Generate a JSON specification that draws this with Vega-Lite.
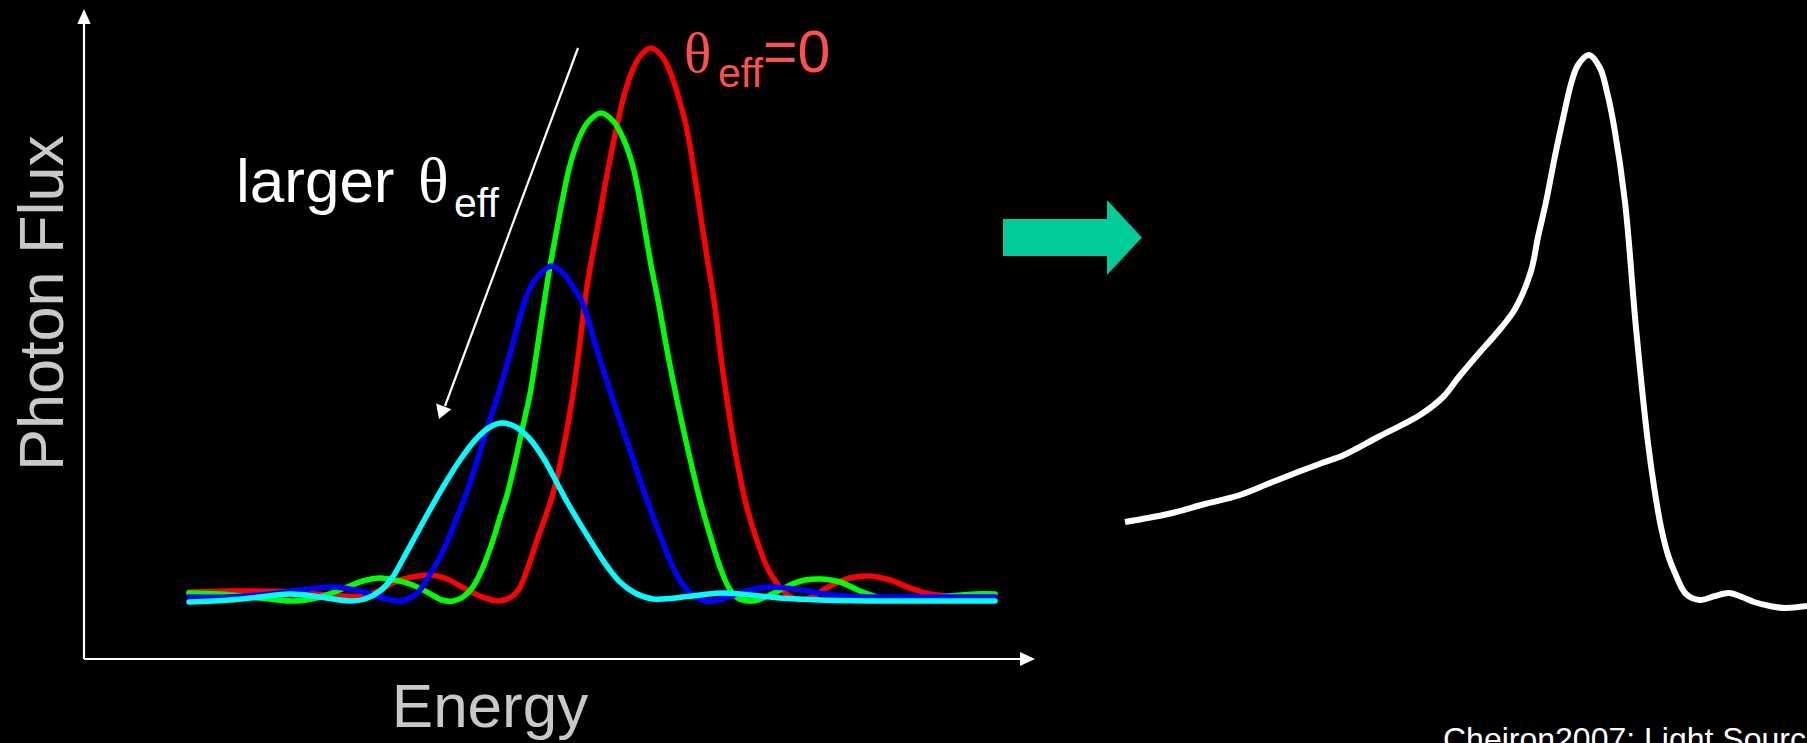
{
  "$schema": "https://vega.github.io/schema/vega-lite/v6.json",
  "width": 1807,
  "height": 743,
  "autosize": "none",
  "padding": 0,
  "background": "#000000",
  "config": {"view": {"stroke": null}},
  "datasets": {
    "spectra": [
      {"series":"theta0","x":189,"y":592},{"series":"theta0","x":240,"y":591},{"series":"theta0","x":290,"y":592},{"series":"theta0","x":330,"y":595},{"series":"theta0","x":362,"y":596},{"series":"theta0","x":380,"y":590},{"series":"theta0","x":395,"y":582},{"series":"theta0","x":412,"y":577},{"series":"theta0","x":430,"y":575},{"series":"theta0","x":447,"y":579},{"series":"theta0","x":462,"y":587},{"series":"theta0","x":480,"y":596},{"series":"theta0","x":499,"y":601},{"series":"theta0","x":511,"y":597},{"series":"theta0","x":519,"y":589},{"series":"theta0","x":527,"y":570},{"series":"theta0","x":537,"y":540},{"series":"theta0","x":546,"y":515},{"series":"theta0","x":554,"y":490},{"series":"theta0","x":563,"y":450},{"series":"theta0","x":572,"y":400},{"series":"theta0","x":579,"y":350},{"series":"theta0","x":585,"y":300},{"series":"theta0","x":591,"y":263},{"series":"theta0","x":598,"y":225},{"series":"theta0","x":606,"y":180},{"series":"theta0","x":616,"y":130},{"series":"theta0","x":625,"y":92},{"series":"theta0","x":633,"y":69},{"series":"theta0","x":641,"y":55},{"series":"theta0","x":651,"y":48},{"series":"theta0","x":661,"y":55},{"series":"theta0","x":669,"y":69},{"series":"theta0","x":677,"y":92},{"series":"theta0","x":687,"y":130},{"series":"theta0","x":695,"y":178},{"series":"theta0","x":702,"y":225},{"series":"theta0","x":708,"y":263},{"series":"theta0","x":714,"y":300},{"series":"theta0","x":720,"y":350},{"series":"theta0","x":727,"y":400},{"series":"theta0","x":735,"y":450},{"series":"theta0","x":745,"y":500},{"series":"theta0","x":755,"y":535},{"series":"theta0","x":767,"y":567},{"series":"theta0","x":778,"y":585},{"series":"theta0","x":788,"y":595},{"series":"theta0","x":800,"y":600},{"series":"theta0","x":812,"y":597},{"series":"theta0","x":830,"y":586},{"series":"theta0","x":850,"y":578},{"series":"theta0","x":870,"y":576},{"series":"theta0","x":890,"y":580},{"series":"theta0","x":910,"y":588},{"series":"theta0","x":930,"y":594},{"series":"theta0","x":950,"y":596},{"series":"theta0","x":975,"y":595},{"series":"theta0","x":995,"y":594},

      {"series":"theta1","x":189,"y":593},{"series":"theta1","x":220,"y":594},{"series":"theta1","x":260,"y":598},{"series":"theta1","x":293,"y":601},{"series":"theta1","x":320,"y":597},{"series":"theta1","x":345,"y":588},{"series":"theta1","x":363,"y":581},{"series":"theta1","x":380,"y":578},{"series":"theta1","x":395,"y":580},{"series":"theta1","x":410,"y":584},{"series":"theta1","x":427,"y":592},{"series":"theta1","x":442,"y":600},{"series":"theta1","x":453,"y":601},{"series":"theta1","x":463,"y":597},{"series":"theta1","x":472,"y":588},{"series":"theta1","x":480,"y":574},{"series":"theta1","x":487,"y":557},{"series":"theta1","x":494,"y":537},{"series":"theta1","x":500,"y":517},{"series":"theta1","x":507,"y":495},{"series":"theta1","x":515,"y":462},{"series":"theta1","x":522,"y":430},{"series":"theta1","x":530,"y":394},{"series":"theta1","x":537,"y":350},{"series":"theta1","x":543,"y":310},{"series":"theta1","x":549,"y":272},{"series":"theta1","x":556,"y":234},{"series":"theta1","x":563,"y":197},{"series":"theta1","x":570,"y":165},{"series":"theta1","x":579,"y":138},{"series":"theta1","x":588,"y":122},{"series":"theta1","x":601,"y":113},{"series":"theta1","x":614,"y":122},{"series":"theta1","x":623,"y":138},{"series":"theta1","x":632,"y":163},{"series":"theta1","x":639,"y":195},{"series":"theta1","x":645,"y":230},{"series":"theta1","x":651,"y":265},{"series":"theta1","x":658,"y":300},{"series":"theta1","x":667,"y":350},{"series":"theta1","x":677,"y":400},{"series":"theta1","x":688,"y":450},{"series":"theta1","x":700,"y":500},{"series":"theta1","x":710,"y":535},{"series":"theta1","x":720,"y":567},{"series":"theta1","x":729,"y":588},{"series":"theta1","x":738,"y":598},{"series":"theta1","x":753,"y":601},{"series":"theta1","x":768,"y":596},{"series":"theta1","x":790,"y":585},{"series":"theta1","x":805,"y":580},{"series":"theta1","x":822,"y":579},{"series":"theta1","x":840,"y":582},{"series":"theta1","x":860,"y":591},{"series":"theta1","x":880,"y":598},{"series":"theta1","x":895,"y":600},{"series":"theta1","x":920,"y":599},{"series":"theta1","x":950,"y":596},{"series":"theta1","x":975,"y":594},{"series":"theta1","x":995,"y":594},

      {"series":"theta2","x":189,"y":597},{"series":"theta2","x":230,"y":597},{"series":"theta2","x":270,"y":594},{"series":"theta2","x":300,"y":590},{"series":"theta2","x":333,"y":587},{"series":"theta2","x":360,"y":591},{"series":"theta2","x":380,"y":597},{"series":"theta2","x":400,"y":601},{"series":"theta2","x":412,"y":597},{"series":"theta2","x":420,"y":590},{"series":"theta2","x":427,"y":579},{"series":"theta2","x":435,"y":566},{"series":"theta2","x":443,"y":551},{"series":"theta2","x":450,"y":535},{"series":"theta2","x":457,"y":517},{"series":"theta2","x":465,"y":497},{"series":"theta2","x":472,"y":477},{"series":"theta2","x":486,"y":432},{"series":"theta2","x":498,"y":395},{"series":"theta2","x":511,"y":350},{"series":"theta2","x":524,"y":303},{"series":"theta2","x":530,"y":288},{"series":"theta2","x":539,"y":275},{"series":"theta2","x":552,"y":266},{"series":"theta2","x":565,"y":275},{"series":"theta2","x":573,"y":287},{"series":"theta2","x":582,"y":302},{"series":"theta2","x":597,"y":350},{"series":"theta2","x":613,"y":400},{"series":"theta2","x":630,"y":450},{"series":"theta2","x":647,"y":500},{"series":"theta2","x":660,"y":535},{"series":"theta2","x":673,"y":567},{"series":"theta2","x":683,"y":585},{"series":"theta2","x":693,"y":595},{"series":"theta2","x":707,"y":601},{"series":"theta2","x":725,"y":598},{"series":"theta2","x":750,"y":590},{"series":"theta2","x":772,"y":587},{"series":"theta2","x":800,"y":590},{"series":"theta2","x":833,"y":595},{"series":"theta2","x":870,"y":597},{"series":"theta2","x":920,"y":597},{"series":"theta2","x":995,"y":597},

      {"series":"theta3","x":189,"y":602},{"series":"theta3","x":230,"y":600},{"series":"theta3","x":260,"y":597},{"series":"theta3","x":290,"y":594},{"series":"theta3","x":320,"y":597},{"series":"theta3","x":350,"y":601},{"series":"theta3","x":365,"y":599},{"series":"theta3","x":380,"y":591},{"series":"theta3","x":392,"y":578},{"series":"theta3","x":403,"y":559},{"series":"theta3","x":415,"y":537},{"series":"theta3","x":427,"y":515},{"series":"theta3","x":443,"y":487},{"series":"theta3","x":460,"y":460},{"series":"theta3","x":477,"y":438},{"series":"theta3","x":490,"y":427},{"series":"theta3","x":501,"y":423},{"series":"theta3","x":514,"y":426},{"series":"theta3","x":529,"y":438},{"series":"theta3","x":544,"y":459},{"series":"theta3","x":558,"y":485},{"series":"theta3","x":570,"y":507},{"series":"theta3","x":582,"y":527},{"series":"theta3","x":595,"y":548},{"series":"theta3","x":607,"y":566},{"series":"theta3","x":620,"y":582},{"series":"theta3","x":635,"y":593},{"series":"theta3","x":653,"y":599},{"series":"theta3","x":675,"y":598},{"series":"theta3","x":700,"y":595},{"series":"theta3","x":723,"y":593},{"series":"theta3","x":750,"y":595},{"series":"theta3","x":780,"y":598},{"series":"theta3","x":820,"y":600},{"series":"theta3","x":880,"y":601},{"series":"theta3","x":995,"y":601}
    ],
    "total": [
      {"x":1125,"y":522},{"x":1168,"y":514},{"x":1205,"y":504},{"x":1240,"y":495},{"x":1270,"y":483},{"x":1298,"y":472},{"x":1322,"y":463},{"x":1344,"y":455},{"x":1380,"y":436},{"x":1420,"y":415},{"x":1443,"y":397},{"x":1458,"y":378},{"x":1474,"y":359},{"x":1501,"y":328},{"x":1515,"y":309},{"x":1531,"y":271},{"x":1538,"y":237},{"x":1546,"y":202},{"x":1555,"y":156},{"x":1564,"y":114},{"x":1571,"y":84},{"x":1578,"y":65},{"x":1589,"y":55},{"x":1600,"y":68},{"x":1607,"y":92},{"x":1614,"y":126},{"x":1625,"y":202},{"x":1636,"y":328},{"x":1648,"y":443},{"x":1655,"y":493},{"x":1661,"y":527},{"x":1668,"y":555},{"x":1675,"y":573},{"x":1686,"y":594},{"x":1700,"y":600},{"x":1715,"y":596},{"x":1729,"y":593},{"x":1742,"y":597},{"x":1754,"y":602},{"x":1770,"y":606},{"x":1785,"y":608},{"x":1807,"y":606}
    ],
    "segments": [
      {"x":84,"y":24,"x2":84,"y2":659},
      {"x":84,"y":659,"x2":1020,"y2":659},
      {"x":578,"y":48,"x2":445,"y2":406}
    ]
  },
  "encoding": {
    "x": {"field":"x","type":"quantitative","scale":{"domain":[0,1807],"nice":false,"zero":false},"axis":null},
    "y": {"field":"y","type":"quantitative","scale":{"domain":[0,743],"nice":false,"zero":false,"reverse":true},"axis":null}
  },
  "layer": [
    {"data":{"name":"segments"},"mark":{"type":"rule","color":"#ffffff","strokeWidth":2.2},
     "encoding":{"x2":{"field":"x2"},"y2":{"field":"y2"}}},
    {"data":{"values":[{"x":84,"y":9}]},"mark":{"type":"point","shape":"M0,0L-0.45,1L0.45,1Z","size":900,"filled":true,"opacity":1,"color":"#ffffff","strokeWidth":0}},
    {"data":{"values":[{"x":1035,"y":659}]},"mark":{"type":"point","shape":"M0,0L-1,-0.46L-1,0.46Z","size":900,"filled":true,"opacity":1,"color":"#ffffff","strokeWidth":0}},
    {"data":{"values":[{"x":439,"y":419}]},"mark":{"type":"point","shape":"M0,0L-0.6,-1L0.6,-1Z","size":729,"angle":20.5,"filled":true,"opacity":1,"color":"#ffffff","strokeWidth":0}},
    {"data":{"name":"spectra"},"transform":[{"filter":"datum.series === 'theta0'"}],"mark":{"type":"line","color":"#ff0000","strokeWidth":5.5,"interpolate":"catmull-rom","strokeCap":"round","strokeJoin":"round"}},
    {"data":{"name":"spectra"},"transform":[{"filter":"datum.series === 'theta1'"}],"mark":{"type":"line","color":"#00ff00","strokeWidth":5.5,"interpolate":"catmull-rom","strokeCap":"round","strokeJoin":"round"}},
    {"data":{"name":"spectra"},"transform":[{"filter":"datum.series === 'theta2'"}],"mark":{"type":"line","color":"#0000ff","strokeWidth":5.5,"interpolate":"catmull-rom","strokeCap":"round","strokeJoin":"round"}},
    {"data":{"name":"spectra"},"transform":[{"filter":"datum.series === 'theta3'"}],"mark":{"type":"line","color":"#00ffff","strokeWidth":5.5,"interpolate":"catmull-rom","strokeCap":"round","strokeJoin":"round"}},
    {"data":{"name":"total"},"mark":{"type":"line","color":"#ffffff","strokeWidth":6,"interpolate":"catmull-rom","strokeJoin":"round"}},
    {"data":{"values":[{"x":1072.5,"y":237.5}]},"mark":{"type":"point","shape":"M-1,-0.266L0.496,-0.266L0.496,-0.54L1,0L0.496,0.54L0.496,0.266L-1,0.266Z","size":19321,"filled":true,"opacity":1,"color":"#00cc99","strokeWidth":0}},
    {"data":{"values":[{"text":"Photon Flux","x":63,"y":303}]},"mark":{"type":"text","angle":270,"align":"center","baseline":"alphabetic","font":"Liberation Sans","fontSize":63,"color":"#c8c8c8"},"encoding":{"text":{"field":"text"}}},
    {"data":{"values":[{"text":"Energy","x":490,"y":727}]},"mark":{"type":"text","align":"center","baseline":"alphabetic","font":"Liberation Sans","fontSize":62,"color":"#c8c8c8"},"encoding":{"text":{"field":"text"}}},
    {"data":{"values":[{"text":"larger","x":236,"y":202}]},"mark":{"type":"text","align":"left","baseline":"alphabetic","font":"Liberation Sans","fontSize":62,"color":"#ffffff"},"encoding":{"text":{"field":"text"}}},
    {"data":{"values":[{"text":"θ","x":418,"y":202}]},"mark":{"type":"text","align":"left","baseline":"alphabetic","font":"Liberation Serif","fontSize":64,"color":"#ffffff"},"encoding":{"text":{"field":"text"}}},
    {"data":{"values":[{"text":"eff","x":454,"y":217}]},"mark":{"type":"text","align":"left","baseline":"alphabetic","font":"Liberation Sans","fontSize":41,"color":"#ffffff"},"encoding":{"text":{"field":"text"}}},
    {"data":{"values":[{"text":"θ","x":684,"y":72}]},"mark":{"type":"text","align":"left","baseline":"alphabetic","font":"Liberation Serif","fontSize":57,"color":"#ff5050"},"encoding":{"text":{"field":"text"}}},
    {"data":{"values":[{"text":"=0","x":763,"y":72}]},"mark":{"type":"text","align":"left","baseline":"alphabetic","font":"Liberation Sans","fontSize":59,"color":"#ff5050"},"encoding":{"text":{"field":"text"}}},
    {"data":{"values":[{"text":"eff","x":718,"y":87}]},"mark":{"type":"text","align":"left","baseline":"alphabetic","font":"Liberation Sans","fontSize":41,"color":"#ff5050"},"encoding":{"text":{"field":"text"}}},
    {"data":{"values":[{"text":"Cheiron2007: Light Source","x":1443,"y":750}]},"mark":{"type":"text","align":"left","baseline":"alphabetic","font":"Liberation Sans","fontSize":32,"color":"#ffffff"},"encoding":{"text":{"field":"text"}}}
  ]
}
